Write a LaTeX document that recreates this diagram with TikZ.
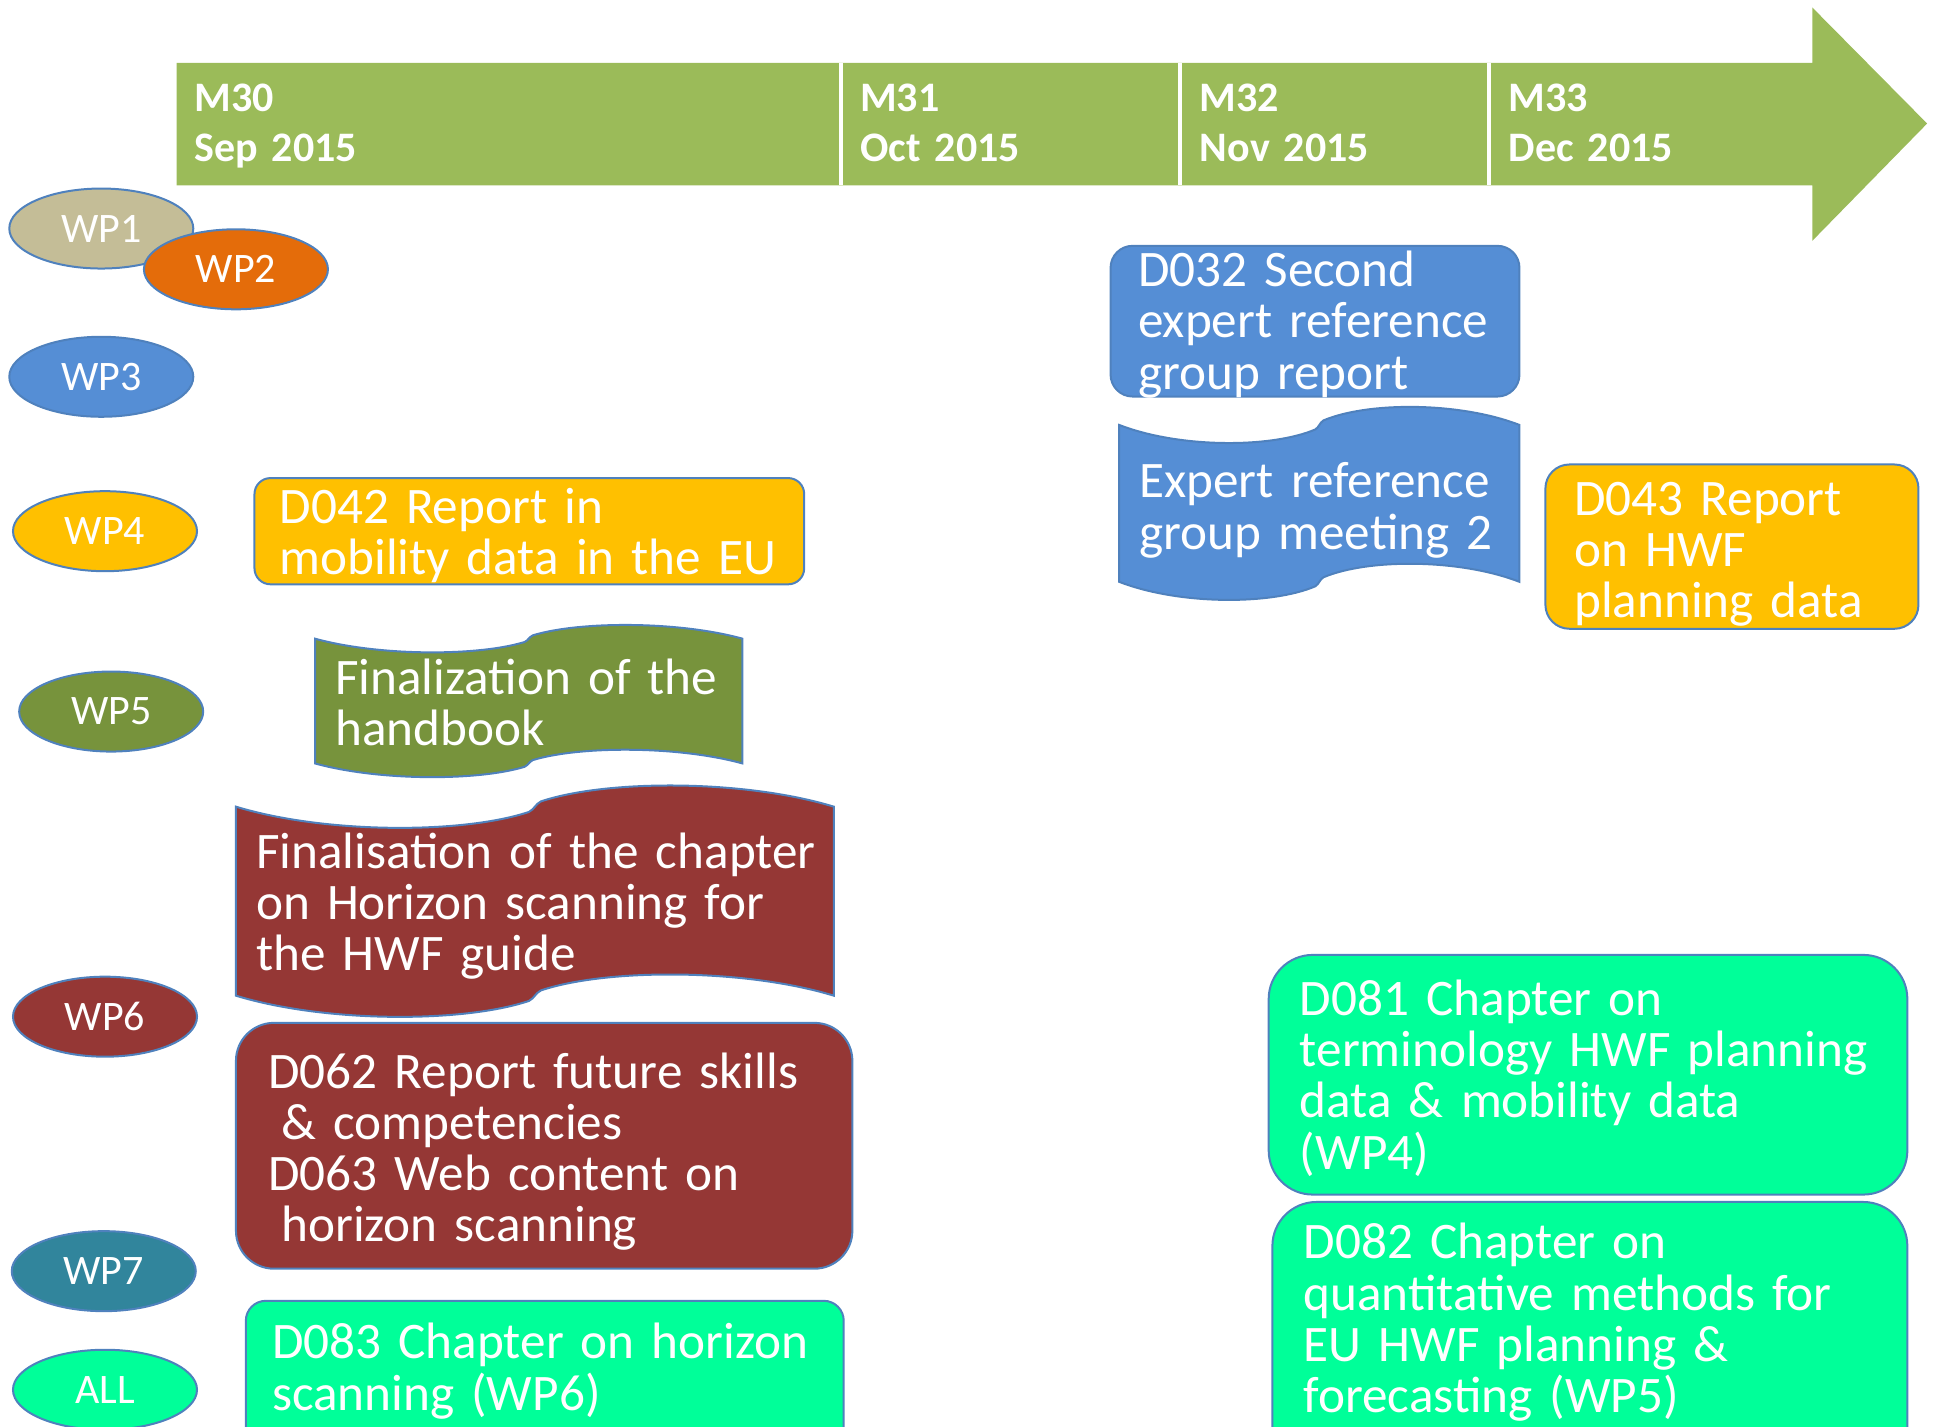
\documentclass[tikz,border=0pt]{standalone}
\usepackage{fontspec}
\setmainfont{Carlito}
\usepackage{xcolor}
\usetikzlibrary{positioning, shapes.geometric}

\definecolor{tlgreen}{HTML}{9BBB59}
\definecolor{edgeblue}{HTML}{4F81BD}
\definecolor{wptan}{HTML}{C4BD97}
\definecolor{wporange}{HTML}{E46C0A}
\definecolor{wpblue}{HTML}{558ED5}
\definecolor{wpyellow}{HTML}{FFC000}
\definecolor{wpolive}{HTML}{77933C}
\definecolor{wpred}{HTML}{953735}
\definecolor{wpteal}{HTML}{31859C}
\definecolor{wpmint}{HTML}{00FF99}

% wave outline: left, top, right, bottom, amplitude
\newcommand{\wavepath}[5]{(#1,#2)
    .. controls ({#1+0.15*(#3-#1)},{#2+1.3*#5}) and ({#1+0.38*(#3-#1)},{#2+1.3*#5}) .. ({#1+0.49*(#3-#1)},{#2+0.25*#5})
    .. controls ({#1+0.5*(#3-#1)},{#2+0.1*#5}) and ({#1+0.5*(#3-#1)},{#2-0.1*#5}) .. ({#1+0.51*(#3-#1)},{#2-0.25*#5})
    .. controls ({#1+0.62*(#3-#1)},{#2-1.3*#5}) and ({#1+0.85*(#3-#1)},{#2-1.3*#5}) .. (#3,#2)
    -- (#3,#4)
    .. controls ({#1+0.85*(#3-#1)},{#4-1.3*#5}) and ({#1+0.62*(#3-#1)},{#4-1.3*#5}) .. ({#1+0.51*(#3-#1)},{#4-0.25*#5})
    .. controls ({#1+0.5*(#3-#1)},{#4-0.1*#5}) and ({#1+0.5*(#3-#1)},{#4+0.1*#5}) .. ({#1+0.49*(#3-#1)},{#4+0.25*#5})
    .. controls ({#1+0.38*(#3-#1)},{#4+1.3*#5}) and ({#1+0.15*(#3-#1)},{#4+1.3*#5}) .. (#1,#4) -- cycle}

\begin{document}
\begin{tikzpicture}[x=0.6176pt, y=-0.6176pt,
    wp/.style={ellipse, draw=edgeblue, line width=1pt, minimum width=92pt, minimum height=40pt, inner sep=0pt, text=white, font=\fontsize{21}{21}\selectfont},
    box/.style={draw=edgeblue, line width=1pt},
    txt/.style={anchor=base west, inner sep=0pt, text=white, align=left, text width=330pt, font=\fontsize{25.6}{25.6}\selectfont},
    month/.style={anchor=base west, inner sep=0pt, text=white, align=left, text width=120pt, font=\fontsize{21}{25.3}\selectfont\bfseries}]
    \useasboundingbox (0,0) rectangle (1568,1155);
    \clip (0,0) rectangle (1568,1155);

    % timeline
    \fill[tlgreen] (143,51) -- (1467,51) -- (1467,6) -- (1560,100) -- (1467,195) -- (1467,150) -- (143,150) -- cycle;
    \foreach \x in {681,955,1205}
        \draw[white, line width=2pt] (\x,51) -- (\x,150);
    \node[month] (m30) at (157,90) {M30\\Sep 2015};
    \node[month] (m31) at (696,90) {M31\\Oct 2015};
    \node[month] (m32) at (971,90) {M32\\Nov 2015};
    \node[month] (m33) at (1221,90) {M33\\Dec 2015};

    % work packages
    \node[wp, fill=wptan] (wp1) at (82,185) {WP1};
    \node[wp, fill=wporange] (wp2) at (191,218) {WP2};
    \node[wp, fill=wpblue] (wp3) at (82,305) {WP3};
    \node[wp, fill=wpyellow] (wp4) at (85,430) {WP4};
    \node[wp, fill=wpolive] (wp5) at (90,576) {WP5};
    \node[wp, fill=wpred] (wp6) at (85,823) {WP6};
    \node[wp, fill=wpteal] (wp7) at (84,1029) {WP7};
    \node[wp, fill=wpmint] (all) at (85,1125) {ALL};

    % WP3
    \filldraw[box, fill=wpblue, rounded corners=11pt] (899,199) rectangle (1230,321);
    \node[txt] (d032) at (921,232) {D032 Second\\expert reference\\group report};
    \filldraw[box, fill=wpblue] \wavepath{906}{344}{1230}{471}{14.5};
    \node[txt] (erg) at (922,403) {Expert reference\\group meeting 2};

    % WP4
    \filldraw[box, fill=wpyellow, rounded corners=8pt] (206,387) rectangle (651,473);
    \node[txt] (d042) at (226,424) {D042 Report in\\mobility data in the EU};
    \filldraw[box, fill=wpyellow, rounded corners=12pt] (1251,376) rectangle (1553,509);
    \node[txt] (d043) at (1274,417) {D043 Report\\on HWF\\planning data};

    % WP5
    \filldraw[box, fill=wpolive] \wavepath{255}{517}{601}{618}{11};
    \node[txt] (hbook) at (271,562) {Finalization of the\\handbook};

    % WP6
    \filldraw[box, fill=wpred] \wavepath{191}{653}{675}{806}{17};
    \node[txt] (chap) at (207,703) {Finalisation of the chapter\\on Horizon scanning for\\the HWF guide};
    \filldraw[box, fill=wpred, rounded corners=19pt] (191,828) rectangle (690,1027);
    \node[txt] (d062) at (217,881) {D062 Report future skills\\\hspace*{0.25em}\& competencies\\D063 Web content on\\\hspace*{0.25em}horizon scanning};

    % ALL
    \filldraw[box, fill=wpmint, rounded corners=10pt] (199,1053) rectangle (683,1180);
    \node[txt] (d083) at (220,1100) {D083 Chapter on horizon\\scanning (WP6)};
    \filldraw[box, fill=wpmint, rounded corners=22pt] (1027,773) rectangle (1544,967);
    \node[txt] (d081) at (1052,822) {D081 Chapter on\\terminology HWF planning\\data \& mobility data\\(WP4)};
    \filldraw[box, fill=wpmint, rounded corners=22pt] (1030,973) rectangle (1544,1190);
    \node[txt] (d082) at (1055,1019) {D082 Chapter on\\quantitative methods for\\EU HWF planning \&\\forecasting (WP5)};
\end{tikzpicture}
\end{document}
